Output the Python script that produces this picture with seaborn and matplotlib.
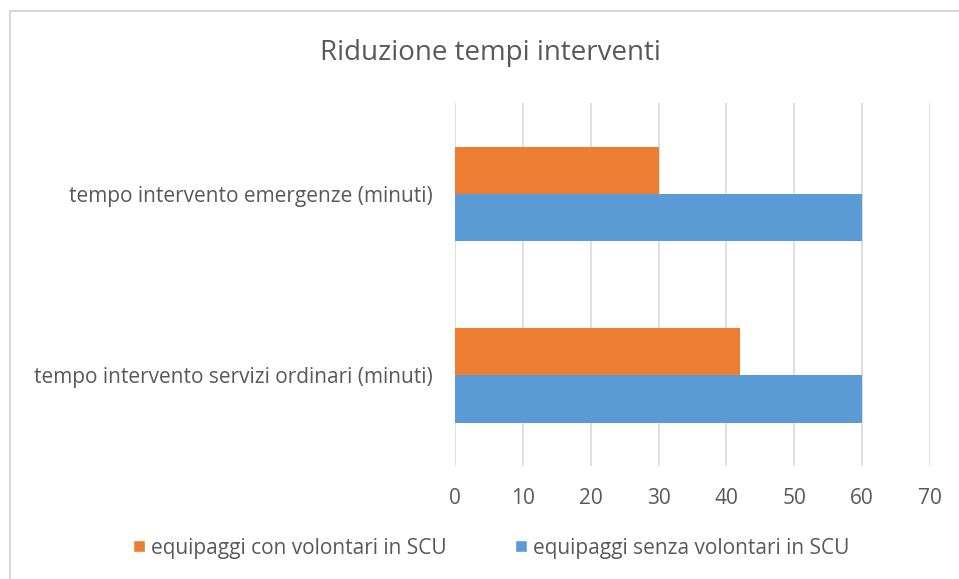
import matplotlib
matplotlib.use("Agg")
import matplotlib.pyplot as plt
import seaborn as sns
import pandas as pd
from matplotlib.patches import Patch
from matplotlib.lines import Line2D

categories = ["tempo intervento emergenze (minuti)",
              "tempo intervento servizi ordinari (minuti)"]
series_names = ["equipaggi con volontari in SCU",
                "equipaggi senza volontari in SCU"]
con_volontari = [30, 42]
senza_volontari = [60, 60]
x_ticks = [0, 10, 20, 30, 40, 50, 60, 70]
title = "Riduzione tempi interventi"

colors = ["#ED7D31", "#5B9BD5"]
text_color = "#595959"

sns.set_theme(style="white")
plt.rcParams['font.family'] = ['Open Sans', 'DejaVu Sans']

rows = []
for c, v in zip(categories, con_volontari):
    rows.append({"cat": c, "serie": series_names[0], "val": v})
for c, v in zip(categories, senza_volontari):
    rows.append({"cat": c, "serie": series_names[1], "val": v})
df = pd.DataFrame(rows)

fig = plt.figure(figsize=(9.59, 5.79), dpi=100)
ax = fig.add_axes([0.4745, 0.195, 0.4953, 0.627])

sns.barplot(data=df, y="cat", x="val", hue="serie", order=categories,
            hue_order=series_names, palette=colors, orient="h",
            width=0.52, gap=0, ax=ax, saturation=1, legend=False,
            edgecolor="none", linewidth=0)

ax.set_xlim(0, 70)
ax.set_ylim(1.5, -0.5)
ax.set_xticks(x_ticks)
ax.set_xticklabels([str(t) for t in x_ticks])
ax.xaxis.grid(True, color="#D9D9D9", linewidth=1.2)
ax.set_axisbelow(True)
for s in ax.spines.values():
    s.set_visible(False)
ax.set_xlabel("")
ax.set_ylabel("")
ax.tick_params(axis="x", length=0, pad=16, labelsize=15, labelcolor=text_color)
ax.tick_params(axis="y", length=0, pad=16, labelsize=15, labelcolor=text_color)

fig.text(0.511, 0.908, title, ha="center", va="center", fontsize=20, color=text_color)

handles = [Patch(facecolor=colors[0]), Patch(facecolor=colors[1])]
fig.legend(handles, series_names, loc="center", bbox_to_anchor=(0.5125, 0.0535),
           ncol=2, frameon=False, fontsize=15, labelcolor=text_color,
           handlelength=0.55, handleheight=0.55, handletextpad=0.3, columnspacing=3.3)

# chart frame: only top and left edges visible (rest cropped)
y_top = 1 - 11 / 579
x_left = 10 / 959
fig.add_artist(Line2D([x_left, 1.0], [y_top, y_top], transform=fig.transFigure,
                      color="#D9D9D9", linewidth=1.5))
fig.add_artist(Line2D([x_left, x_left], [0.0, y_top], transform=fig.transFigure,
                      color="#D9D9D9", linewidth=1.5))

fig.savefig("out.png", dpi=100)
